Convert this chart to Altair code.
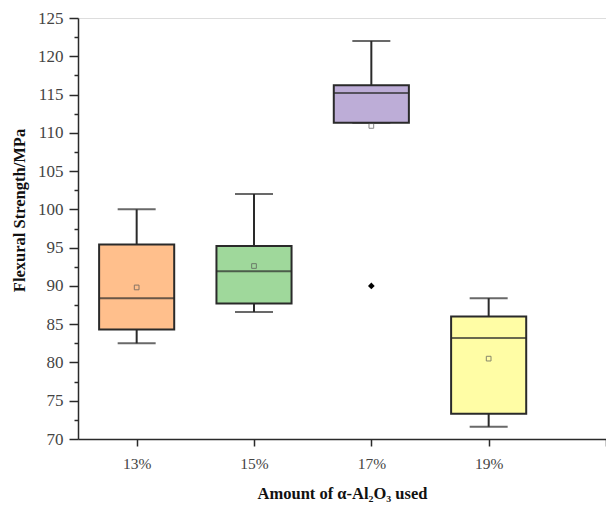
import altair as alt
import pandas as pd

categories = ["13%", "15%", "17%", "19%"]
positions = [1, 2, 3, 4]
lower = [82.5, 86.6, 111.3, 71.6]
q1 = [84.3, 87.7, 111.3, 73.3]
median = [88.4, 91.9, 115.2, 83.2]
q3 = [95.4, 95.2, 116.2, 86.0]
upper = [100.0, 102.0, 122.0, 88.4]
means = [89.8, 92.6, 110.9, 80.5]
colors = ["#FFBF8C", "#9FD89B", "#BDADD7", "#FFFDA5"]

outlier_cat = ["17%"]
outlier_pos = [3]
outlier_val = [90.0]

df = pd.DataFrame(dict(cat=categories, pos=positions, lower=lower, q1=q1,
                       median=median, q3=q3, upper=upper, mean=means))
odf = pd.DataFrame(dict(cat=outlier_cat, pos=outlier_pos, val=outlier_val))

font = "Liberation Serif"
dark = "#2a2a2a"

label_expr = " : ".join(
    [f"datum.value == {p} ? '{c}'" for p, c in zip(positions, categories)]
) + " : ''"

x_scale = alt.Scale(domain=[0.5, 5], nice=False, zero=False)
y_scale = alt.Scale(domain=[70, 125], nice=False, zero=False)

x_axis = alt.Axis(
    values=positions + [5], labelExpr=label_expr, title="Amount of α-Al₂O₃ used",
    grid=False, tickSize=7, tickWidth=1.5, tickColor=dark, domainColor=dark,
    domainWidth=1.5, labelFont=font, labelFontSize=15.5, labelColor="#444444",
    labelPadding=10, labelOverlap=False, titleFont=font, titleFontSize=16.5,
    titleFontWeight="bold", titleColor="#111111", titlePadding=14,
)
y_vals = [70 + 2.5 * i for i in range(23)]
y_axis = alt.Axis(
    values=y_vals, labelExpr="datum.value % 5 === 0 ? datum.label : ''",
    title="Flexural Strength/MPa", grid=False,
    tickSize={"condition": {"test": "datum.value % 5 === 0", "value": 9}, "value": 4},
    tickWidth=1.5, tickColor=dark, domainColor=dark, domainWidth=1.5,
    labelFont=font, labelFontSize=17, labelColor="#444444", labelPadding=6,
    labelOverlap=False, labelBound=False, labelFlush=False,
    titleFont=font, titleFontSize=16.5, titleFontWeight="bold", titleColor="#111111",
    titlePadding=10, titleY=192,
)

base = alt.Chart(df)
xq = alt.X("pos:Q", scale=x_scale, axis=x_axis)


def Y(field):
    return alt.Y(field, scale=y_scale, axis=y_axis)


wlow = base.mark_rule(color=dark, strokeWidth=2).encode(
    x=xq, y=Y("lower:Q"), y2="q1:Q")
whigh = base.mark_rule(color=dark, strokeWidth=2).encode(
    x=xq, y=Y("q3:Q"), y2="upper:Q")
cap_lo = base.mark_tick(orient="horizontal", size=38, thickness=2, color=dark).encode(
    x=xq, y=Y("lower:Q"))
cap_hi = base.mark_tick(orient="horizontal", size=38, thickness=2, color=dark).encode(
    x=xq, y=Y("upper:Q"))
box = base.mark_bar(stroke=dark, strokeWidth=2).transform_calculate(
    xa="datum.pos - 0.32", xb="datum.pos + 0.32").encode(
    x=alt.X("xa:Q", scale=x_scale, axis=x_axis), x2="xb:Q",
    y=Y("q1:Q"), y2="q3:Q",
    fill=alt.Color("cat:N", scale=alt.Scale(domain=categories, range=colors), legend=None))
med = base.mark_tick(orient="horizontal", size=75, thickness=2, color=dark).encode(
    x=xq, y=Y("median:Q"))
mean = base.mark_point(shape="square", filled=False, size=22, color="#555555",
                       strokeWidth=1).encode(x=xq, y=Y("mean:Q"))
outl = alt.Chart(odf).mark_point(shape="diamond", filled=True, color="black",
                                 size=45, opacity=1).encode(
    x=alt.X("pos:Q", scale=x_scale, axis=x_axis), y=Y("val:Q"))

chart = alt.layer(wlow, whigh, cap_lo, cap_hi, box, med, mean, outl).properties(
    width=528, height=421, autosize="none",
    padding={"left": 70, "top": 10, "right": 0, "bottom": 75},
).configure_view(stroke=None).configure(background="white")

chart.save("out.html", embed_options={"renderer": "svg", "actions": False})
